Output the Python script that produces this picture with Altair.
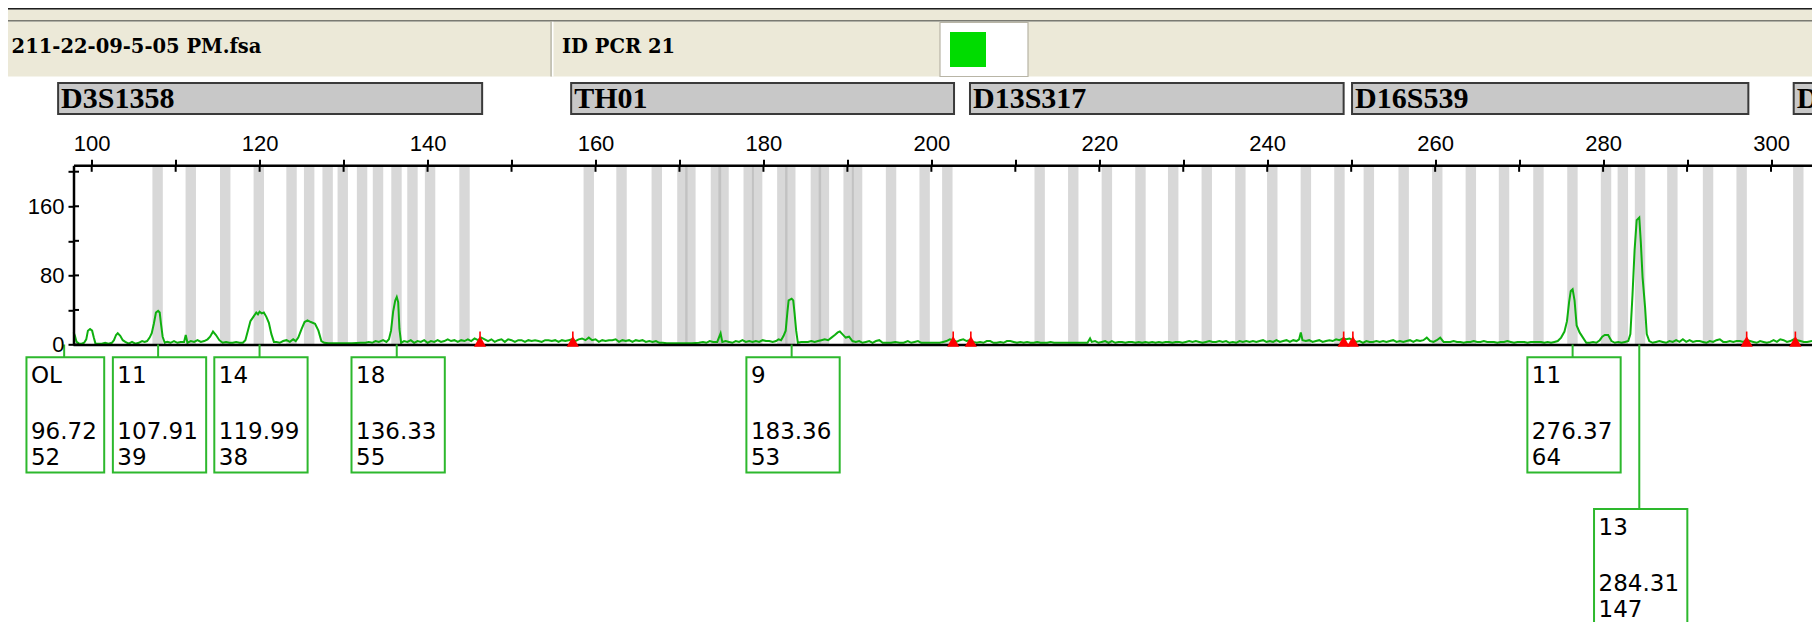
import altair as alt
import pandas as pd

# ------------------------------------------------------------------ data
FILE_NAME = "211-22-09-5-05 PM.fsa"
SAMPLE_NAME = "ID PCR 21"

LOCUS_NAME = ["D3S1358", "TH01", "D13S317", "D16S539", "D2S1338"]
LOCUS_START = [96.0, 157.1, 204.6, 250.1, 302.7]
LOCUS_END = [146.5, 202.7, 249.1, 297.3, 340.0]

BINS_D3 = [107.85, 111.8, 115.9, 119.9, 123.8, 125.9, 128.1, 129.9, 132.2, 134.1,
           136.3, 138.2, 140.3, 144.4]
BINS_TH01 = [159.2, 163.1, 167.3, 170.35, 171.3, 174.35, 175.25, 178.25, 179.25,
             182.25, 183.2, 186.25, 187.2, 190.15, 191.15, 195.2, 199.2, 201.9]
BINS_D13 = [212.9, 216.9, 220.9, 224.9, 228.8, 232.8, 236.8, 240.6, 244.6, 248.6]
BINS_D16 = [252.1, 256.25, 260.25, 264.25, 268.2, 272.3, 276.35, 280.35, 282.35,
            284.4, 288.25, 292.5, 296.5]
BINS_D2 = [303.25]

MARKER_SIZE = [146.25, 157.3, 202.6, 204.7, 249.1, 250.2, 297.1, 302.9]

PEAK_ALLELE = ["OL", "11", "14", "18", "9", "11", "13"]
PEAK_SIZE = [96.72, 107.91, 119.99, 136.33, 183.36, 276.37, 284.31]
PEAK_HEIGHT = [52, 39, 38, 55, 53, 64, 147]

X_TICKS = [100, 110, 120, 130, 140, 150, 160, 170, 180, 190, 200, 210, 220, 230,
           240, 250, 260, 270, 280, 290, 300]
Y_TICKS = [0, 40, 80, 120, 160, 200]

TRACE_D3 = [
    (97.85, 14), (98.0, 10), (98.2, 3), (98.5, 1), (98.8, 1), (99.1, 2), (99.35, 6),
    (99.55, 16), (99.8, 18), (100.05, 16), (100.25, 8), (100.45, 1), (100.8, 1),
    (101.2, 1), (101.6, 2), (102.0, 1), (102.4, 2), (102.65, 5), (102.9, 11),
    (103.1, 13), (103.4, 10), (103.7, 5), (104.0, 3), (104.4, 1), (104.8, 3),
    (105.2, 1), (105.6, 2), (106.0, 4), (106.3, 3), (106.6, 4), (106.9, 8),
    (107.15, 13), (107.4, 24), (107.65, 37), (107.91, 39), (108.1, 37), (108.25, 24),
    (108.45, 9), (108.7, 2), (109.0, 3), (109.4, 2), (109.8, 4), (110.2, 2),
    (110.6, 3), (111.0, 3), (111.2, 11), (111.4, 2), (111.8, 4), (112.2, 3),
    (112.6, 5), (113.0, 3), (113.4, 4), (113.8, 6), (114.1, 9), (114.45, 15),
    (114.8, 11), (115.2, 5), (115.6, 2), (116.0, 3), (116.4, 2), (116.8, 2),
    (117.2, 3), (117.6, 2), (118.0, 2), (118.3, 5), (118.6, 16), (118.9, 27),
    (119.25, 32), (119.6, 37), (119.8, 35), (119.99, 38), (120.25, 36), (120.5, 37),
    (120.8, 32), (121.1, 25), (121.4, 12), (121.7, 3), (122.0, 3), (122.4, 2),
    (122.8, 4), (123.2, 5), (123.6, 3), (124.0, 6), (124.3, 4), (124.6, 8),
    (125.0, 18), (125.35, 26), (125.7, 28), (126.1, 26), (126.6, 24), (127.0, 16),
    (127.35, 4), (127.7, 2), (128.2, 1.5), (129.0, 1.5), (130.0, 1.5), (131.0, 1.5),
    (132.0, 2), (132.6, 2), (133.0, 3), (133.4, 2), (133.8, 4), (134.2, 3),
    (134.7, 5), (135.1, 3), (135.4, 6), (135.65, 16), (135.9, 38), (136.15, 51),
    (136.33, 55), (136.5, 49), (136.65, 18), (136.85, 2), (137.2, 4), (137.6, 3),
    (138.0, 5), (138.4, 2), (138.8, 4), (139.2, 3), (139.6, 5), (140.0, 2),
    (140.4, 4), (140.8, 3), (141.2, 5), (141.6, 3), (142.0, 4), (142.4, 6),
    (142.8, 4), (143.2, 5), (143.6, 3), (144.0, 5), (144.4, 4), (144.8, 6),
    (145.2, 4), (145.6, 7), (146.0, 5), (146.4, 8), (146.8, 6), (147.2, 4),
    (147.6, 6), (148.0, 3), (148.4, 5), (148.8, 6), (149.2, 3), (149.6, 6),
]
TRACE_TH01 = [
    (150.0, 5), (150.4, 3), (150.8, 5), (151.2, 5), (151.6, 3), (152.0, 5),
    (152.4, 4), (152.8, 5), (153.2, 4), (153.6, 3), (154.0, 5), (154.4, 5),
    (154.8, 4), (155.2, 5), (155.6, 3), (156.0, 5), (156.4, 4), (156.8, 5),
    (157.2, 6), (157.6, 4), (158.0, 6), (158.4, 7), (158.8, 5), (159.2, 8),
    (159.6, 5), (160.0, 6), (160.4, 3), (160.8, 5), (161.2, 4), (161.6, 5),
    (162.0, 5), (162.4, 6), (162.8, 3), (163.2, 5), (163.6, 4), (164.0, 5),
    (164.4, 3), (164.8, 5), (165.2, 4), (165.6, 5), (166.0, 3), (166.4, 4),
    (166.8, 3), (167.2, 4), (167.6, 2), (168.0, 2), (168.5, 1.5), (169.5, 1.5),
    (170.5, 1.5), (171.5, 1.5), (172.3, 2), (172.8, 3), (173.2, 2), (173.6, 4),
    (174.0, 3), (174.5, 3), (174.9, 13), (175.1, 3), (175.5, 4), (175.9, 3),
    (176.3, 2), (176.7, 4), (177.1, 3), (177.5, 5), (177.9, 3), (178.3, 4),
    (178.7, 3), (179.1, 4), (179.5, 3), (179.9, 5), (180.3, 4), (180.7, 4),
    (181.1, 3), (181.5, 4), (181.8, 6), (182.1, 5), (182.4, 10), (182.65, 16),
    (182.85, 37), (183.0, 51), (183.36, 53), (183.55, 51), (183.7, 37), (183.9, 16),
    (184.1, 2), (184.5, 3), (184.9, 3), (185.3, 3), (185.7, 4), (186.1, 3),
    (186.5, 4), (186.9, 5), (187.3, 6), (187.7, 5), (188.1, 8), (188.5, 11),
    (188.85, 14), (189.1, 15), (189.4, 12), (189.8, 8), (190.2, 9), (190.6, 4),
    (191.0, 3), (191.4, 4), (191.8, 2), (192.2, 3), (192.6, 4), (193.0, 2),
    (193.4, 4), (193.8, 5), (194.2, 2), (194.7, 2), (195.2, 2), (195.7, 3),
    (196.2, 2), (196.7, 2), (197.2, 4), (197.6, 2), (198.0, 3), (198.4, 4),
    (198.8, 2), (199.2, 2), (199.6, 2), (200.0, 2), (200.5, 2), (201.0, 2),
    (201.4, 3), (201.8, 4), (202.2, 6), (202.6, 5), (203.0, 3), (203.4, 5),
    (203.8, 6),
]
TRACE_D13 = [
    (204.2, 4), (204.6, 5), (205.0, 3), (205.4, 2), (205.8, 3), (206.2, 2),
    (206.6, 4), (207.0, 4), (207.4, 2), (207.8, 2), (208.2, 3), (208.6, 2),
    (209.0, 4), (209.4, 4), (209.8, 3), (210.2, 2), (210.6, 3), (211.0, 2),
    (211.4, 3), (211.8, 2), (212.2, 2), (212.6, 3), (213.0, 2), (213.4, 2),
    (213.8, 2), (214.2, 3), (214.6, 2), (215.0, 2), (215.4, 2), (215.8, 2),
    (216.2, 2), (216.6, 2), (217.0, 2), (217.4, 2), (217.8, 2), (218.2, 2),
    (218.6, 2), (218.9, 7), (219.1, 3), (219.5, 4), (219.9, 2), (220.3, 3),
    (220.7, 4), (221.1, 2), (221.5, 4), (221.9, 2), (222.3, 3), (222.7, 3),
    (223.1, 2), (223.5, 3), (223.9, 3), (224.3, 2), (224.7, 3), (225.1, 2),
    (225.5, 3), (225.9, 2), (226.3, 3), (226.7, 2), (227.1, 3), (227.5, 2),
    (227.9, 3), (228.3, 3), (228.7, 2), (229.1, 3), (229.5, 3), (229.9, 2),
    (230.3, 3), (230.7, 4), (231.1, 3), (231.5, 4), (231.9, 3), (232.3, 2),
    (232.7, 3), (233.1, 4), (233.5, 3), (233.9, 3), (234.3, 4), (234.7, 3),
    (235.1, 4), (235.5, 2), (235.9, 3), (236.3, 2), (236.7, 4), (237.1, 3),
    (237.5, 4), (237.9, 3), (238.3, 4), (238.7, 3), (239.1, 4), (239.5, 5),
    (239.9, 3), (240.3, 4), (240.7, 3), (241.1, 5), (241.5, 3), (241.9, 4),
    (242.3, 5), (242.7, 3), (243.1, 5), (243.5, 4), (243.8, 6), (244.0, 14),
    (244.2, 5), (244.6, 4), (245.0, 5), (245.4, 3), (245.8, 4), (246.2, 5),
    (246.6, 3), (247.0, 4), (247.4, 5), (247.8, 4), (248.2, 6), (248.6, 5),
    (249.0, 7), (249.4, 6), (249.8, 7),
]
TRACE_D16 = [
    (250.2, 5), (250.6, 3), (251.0, 4), (251.4, 2), (251.8, 4), (252.2, 3),
    (252.6, 3), (253.0, 4), (253.4, 3), (253.8, 4), (254.2, 3), (254.6, 4),
    (255.0, 5), (255.4, 3), (255.8, 4), (256.2, 3), (256.6, 4), (257.0, 5),
    (257.4, 3), (257.8, 5), (258.2, 4), (258.6, 5), (259.0, 8), (259.4, 4),
    (259.8, 3), (260.2, 5), (260.6, 8), (261.0, 3), (261.4, 3), (261.8, 3),
    (262.2, 4), (262.6, 3), (263.0, 3), (263.4, 2), (263.8, 3), (264.2, 3),
    (264.6, 4), (265.0, 3), (265.4, 3), (265.8, 4), (266.2, 3), (266.6, 3),
    (267.0, 3), (267.4, 2), (267.8, 3), (268.2, 3), (268.6, 4), (269.0, 3),
    (269.4, 2), (269.8, 3), (270.2, 3), (270.6, 3), (271.0, 2), (271.4, 3),
    (271.8, 3), (272.2, 3), (272.6, 3), (273.0, 2), (273.4, 3), (273.8, 2),
    (274.2, 3), (274.6, 4), (275.0, 8), (275.4, 15), (275.7, 27), (275.95, 49),
    (276.15, 62), (276.37, 64), (276.6, 51), (276.85, 22), (277.2, 14), (277.6, 8),
    (278.0, 2), (278.4, 2), (278.8, 3), (279.2, 2), (279.6, 5), (279.9, 9),
    (280.2, 11), (280.6, 11), (281.0, 4), (281.4, 2), (281.8, 3), (282.2, 2),
    (282.6, 3), (283.0, 4), (283.25, 12), (283.5, 57), (283.75, 109), (284.0, 144),
    (284.31, 147), (284.5, 117), (284.7, 78), (285.0, 43), (285.2, 12), (285.5, 4),
    (285.9, 2), (286.3, 3), (286.7, 4), (287.1, 3), (287.5, 2), (287.9, 4),
    (288.3, 3), (288.7, 5), (289.1, 3), (289.5, 6), (289.9, 3), (290.3, 5),
    (290.7, 3), (291.1, 4), (291.5, 4), (291.9, 3), (292.3, 2), (292.7, 4),
    (293.1, 3), (293.5, 5), (293.9, 6), (294.3, 3), (294.7, 3), (295.1, 4),
    (295.5, 3), (295.9, 4), (296.3, 4), (296.7, 3), (297.1, 5), (297.5, 4),
    (297.9, 3), (298.3, 2), (298.7, 4), (299.1, 3), (299.5, 2), (299.9, 3),
    (300.3, 5), (300.7, 3), (301.1, 6), (301.5, 5), (301.9, 3), (302.3, 4),
    (302.7, 6), (303.1, 5), (303.5, 4), (303.9, 3), (304.3, 3), (304.88, 4),
]

# ------------------------------------------------------------------ layout
PLOT_LEFT = 73.5      # page pixel of the plot's left border
PLOT_TOP = 165.3      # page pixel of the plot's top border
W = 1738.5
H = 179.2
TOTAL_H = 614
X_DOMAIN = [97.832, 304.88]
Y_DOMAIN = [0, 207.4]
PXU = W / (X_DOMAIN[1] - X_DOMAIN[0])

def rx(v):
    return v - PLOT_LEFT

def ry(v):
    return v - PLOT_TOP

GREEN_TRACE = "#0FB00F"
GREEN_BOX = "#2DB82D"
TAN = "#ECE9D8"
BIN_HALF = 0.62

XS = alt.Scale(domain=X_DOMAIN, nice=False, zero=False)
YS = alt.Scale(domain=Y_DOMAIN, nice=False, zero=False)

X_AXIS = alt.Axis(orient="top", values=X_TICKS, format="d",
                  labelExpr="datum.value % 20 === 0 ? datum.label : ''",
                  tickSize=6, tickWidth=2, tickColor="black",
                  domainColor="black", domainWidth=2.5,
                  labelFont="Liberation Sans", labelFontSize=22, labelColor="black",
                  labelPadding=4, labelFlush=False, labelOverlap=False,
                  grid=False, title=None, zindex=2)
Y_AXIS = alt.Axis(orient="left", values=Y_TICKS, format="d",
                  labelExpr="datum.value % 80 === 0 ? datum.label : ''",
                  tickSize=5.5, tickWidth=2, tickColor="black",
                  domainColor="black", domainWidth=2.5,
                  labelFont="Liberation Sans", labelFontSize=22, labelColor="black",
                  labelPadding=4, labelFlush=False, labelOverlap=False,
                  grid=False, title=None, zindex=2)


def X(field):
    return alt.X(field, scale=XS, axis=X_AXIS)


def Y(field):
    return alt.Y(field, scale=YS, axis=Y_AXIS)


one = pd.DataFrame({"k": [0]})


def prect(x1, y1, x2, y2, **kw):
    return alt.Chart(one).mark_rect(**kw).encode(
        x=alt.value(rx(x1)), x2=alt.value(rx(x2)),
        y=alt.value(ry(y1)), y2=alt.value(ry(y2)))


def ptext(x, y, txt, **kw):
    return alt.Chart(one).mark_text(text=txt, align="left", baseline="alphabetic",
                                    **kw).encode(x=alt.value(rx(x)), y=alt.value(ry(y)))

# header chrome
header = [
    prect(0, 7.5, 1820, 9.8, fill="#1E1E1E"),
    prect(0, 9.8, 1820, 20.0, fill=TAN),
    prect(0, 20.0, 1820, 21.8, fill="#7A7A72"),
    prect(0, 21.8, 1820, 76.5, fill=TAN),
    prect(550.5, 21.8, 551.8, 76.5, fill="#A8A697"),
    prect(551.8, 21.8, 553.5, 76.5, fill="#FFFFFF"),
    prect(940, 22.5, 1028, 76.5, fill="#FFFFFF", stroke="#B8B5A6", strokeWidth=1.2),
    prect(950, 32, 986, 67, fill="#00DC00"),
    ptext(11.6, 53.3, FILE_NAME, font="DejaVu Serif", fontWeight="bold", fontSize=19.5,
          color="black"),
    ptext(562, 53.3, SAMPLE_NAME, font="DejaVu Serif", fontWeight="bold", fontSize=19.5,
          color="black"),
]

# loci
loci = pd.DataFrame({"name": LOCUS_NAME, "start": LOCUS_START, "end": LOCUS_END})
locus_bars = alt.Chart(loci).mark_rect(fill="#C8C8C8", stroke="#3A3A3A",
                                       strokeWidth=2).encode(
    x=X("start:Q"), x2="end:Q",
    y=alt.value(ry(83.0)), y2=alt.value(ry(114.0)))
locus_text = alt.Chart(loci).mark_text(align="left", baseline="alphabetic", dx=3,
                                       font="Liberation Serif", fontWeight="bold",
                                       fontSize=30, color="black").encode(
    x=X("start:Q"), y=alt.value(ry(107.5)), text="name:N")

# bins
bin_centers = BINS_D3 + BINS_TH01 + BINS_D13 + BINS_D16 + BINS_D2
bins = pd.DataFrame({"lo": [c - BIN_HALF for c in bin_centers],
                     "hi": [c + BIN_HALF for c in bin_centers]})
bin_layer = alt.Chart(bins).mark_rect(fill="#A9A9A9", opacity=0.45).encode(
    x=X("lo:Q"), x2="hi:Q", y=alt.value(0), y2=alt.value(H))

# trace
trace_pts = TRACE_D3 + TRACE_TH01 + TRACE_D13 + TRACE_D16
trace = pd.DataFrame({"size": [p[0] for p in trace_pts], "rfu": [p[1] for p in trace_pts]})
trace_layer = alt.Chart(trace).mark_line(color=GREEN_TRACE, strokeWidth=2).encode(
    x=X("size:Q"), y=Y("rfu:Q"))

# inner halves of the ticks and bottom frame line
xt = pd.DataFrame({"v": X_TICKS})
xtick_in = alt.Chart(xt).mark_rule(color="black", strokeWidth=2).encode(
    x=X("v:Q"), y=alt.value(0), y2=alt.value(6.5))
yt = pd.DataFrame({"v": Y_TICKS})
ytick_in = alt.Chart(yt).mark_rule(color="black", strokeWidth=2).encode(
    y=Y("v:Q"), x=alt.value(0), x2=alt.value(5.5))
bottom_line = alt.Chart(one).mark_rule(color="black", strokeWidth=2.5).encode(
    y=alt.value(H + 0.6), x=alt.value(0), x2=alt.value(W))

# red locus-edge markers
mk = pd.DataFrame({"size": MARKER_SIZE, "y0": [0] * len(MARKER_SIZE),
                   "y1": [15] * len(MARKER_SIZE), "yt": [3.6] * len(MARKER_SIZE)})
marker_rule = alt.Chart(mk).mark_rule(color="#FF0000", strokeWidth=1.6).encode(
    x=X("size:Q"), y=Y("y0:Q"), y2="y1:Q")
marker_tri = alt.Chart(mk).mark_point(shape="triangle-up", filled=True, size=150,
                                      color="#FF0000", opacity=1).encode(
    x=X("size:Q"), y=Y("yt:Q"))

# allele call boxes
rows = []
prev_right0 = -1e9
for a, s, h in zip(PEAK_ALLELE, PEAK_SIZE, PEAK_HEIGHT):
    lab = f"{s:.2f}"
    wpx = 15.55 * len(lab)
    cx = (s - X_DOMAIN[0]) * PXU
    left = cx - 0.485 * wpx
    right = left + wpx
    if left < prev_right0:
        top = ry(509.0)
    else:
        top = ry(357.3)
        prev_right0 = right
    rows.append({"allele": a, "size": s, "slab": lab, "hlab": str(h),
                 "bl": X_DOMAIN[0] + left / PXU, "br": X_DOMAIN[0] + right / PXU,
                 "base": H, "top": top, "bot": top + 115.2,
                 "t1": top + 26.0, "t2": top + 81.7, "t3": top + 107.7})
boxes = pd.DataFrame(rows)

connector = alt.Chart(boxes).mark_rule(color=GREEN_BOX, strokeWidth=2).encode(
    x=X("size:Q"), y=alt.Y("base:Q", scale=None, axis=None), y2="top:Q")
box_rect = alt.Chart(boxes).mark_rect(fill="white", stroke=GREEN_BOX,
                                      strokeWidth=2).encode(
    x=X("bl:Q"), x2="br:Q", y=alt.Y("top:Q", scale=None, axis=None), y2="bot:Q")


def box_text(field, yfield):
    return alt.Chart(boxes).mark_text(align="left", baseline="alphabetic", dx=4.5,
                                      font="DejaVu Sans", fontSize=23,
                                      color="black").encode(
        x=X("bl:Q"), y=alt.Y(f"{yfield}:Q", scale=None, axis=None),
        text=f"{field}:N")


layers = header + [locus_bars, locus_text, bin_layer, trace_layer, xtick_in, ytick_in,
                   bottom_line, marker_rule, marker_tri, connector, box_rect,
                   box_text("allele", "t1"), box_text("slab", "t2"),
                   box_text("hlab", "t3")]

chart = alt.layer(*layers).properties(
    width=W, height=H,
    autosize=alt.AutoSizeParams(type="none"),
    padding={"left": PLOT_LEFT - 8, "top": PLOT_TOP - 8, "right": 0,
             "bottom": TOTAL_H - (PLOT_TOP - 8) - H},
    background="white",
).configure_view(stroke=None)

chart.save("out.html", embed_options={"renderer": "svg", "actions": False})
